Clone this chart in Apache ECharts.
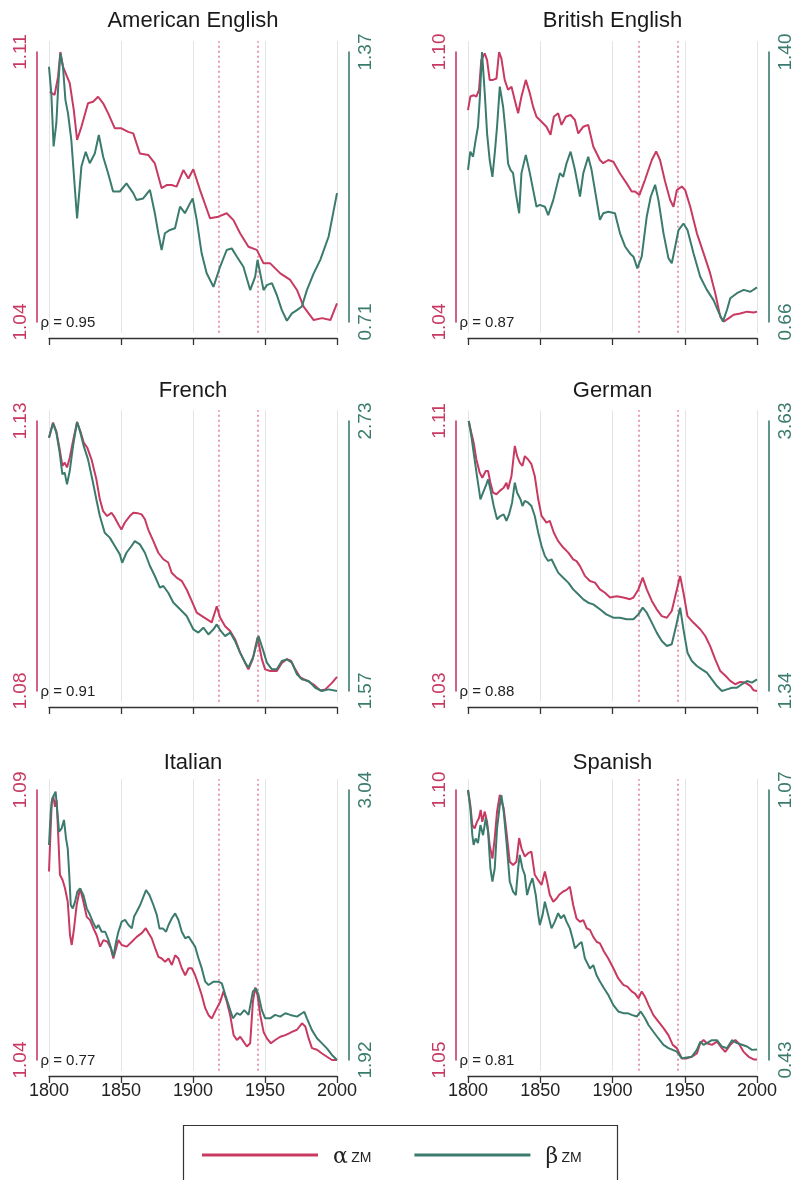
<!DOCTYPE html>
<html>
<head>
<meta charset="utf-8">
<script src="https://cdn.jsdelivr.net/npm/echarts@6.0.0/dist/echarts.min.js"></script>
<style>
html,body{margin:0;padding:0;background:#fff;}
#c{width:797px;height:1180px;}
</style>
</head>
<body>
<div id="c"></div>
<script>
// ---------------- DATA ----------------
const panelNames = ['American English', 'British English', 'French', 'German', 'Italian', 'Spanish'];
const rhoValues = ['0.95', '0.87', '0.91', '0.88', '0.77', '0.81'];
const alphaTicks = [[1.04, 1.11], [1.04, 1.10], [1.08, 1.13], [1.03, 1.11], [1.04, 1.09], [1.05, 1.10]];
const betaTicks = [[0.71, 1.37], [0.66, 1.40], [1.57, 2.73], [1.34, 3.63], [1.92, 3.04], [0.43, 1.07]];
const yearTicks = [1800, 1850, 1900, 1950, 2000];
const warYears = [1918, 1945];
const seriesNames = ['α', 'β'];

const amEngAlpha = [[1800.5,1.0997],[1803.9,1.0989],[1806.3,1.1036],[1807.9,1.1100],[1809.7,1.1062],[1812.1,1.104],[1814.4,1.1019],[1817.2,1.095],[1819.5,1.0872],[1822.5,1.0906],[1827.1,1.0967],[1830.6,1.0971],[1834.1,1.0984],[1837.6,1.0967],[1841.1,1.0941],[1845.7,1.0902],[1850.3,1.0902],[1855,1.0893],[1858.5,1.0889],[1863.1,1.0837],[1868.9,1.0833],[1873.5,1.0811],[1878.2,1.0747],[1881.7,1.0755],[1885.2,1.0755],[1888.6,1.0751],[1893.3,1.0794],[1896.8,1.0772],[1900.2,1.0796],[1904.9,1.0742],[1911.8,1.0669],[1917.6,1.0673],[1923.4,1.0682],[1928.1,1.0664],[1932.7,1.063],[1938.5,1.0595],[1944.3,1.0587],[1949,1.0552],[1953.6,1.0552],[1960.6,1.0526],[1967.5,1.0509],[1972.2,1.0483],[1976.8,1.044],[1983.8,1.0405],[1989.6,1.041],[1995.4,1.0405],[2000,1.0448]];
const amEngBeta = [[1800,1.334],[1801.6,1.269],[1803.2,1.139],[1805.1,1.196],[1806.5,1.293],[1807.9,1.367],[1809.7,1.334],[1811.4,1.253],[1813.2,1.22],[1815.5,1.155],[1819.5,0.963],[1822.5,1.09],[1825.5,1.126],[1828.3,1.098],[1831.8,1.122],[1834.6,1.167],[1837.6,1.114],[1841.1,1.073],[1844.5,1.029],[1849.2,1.029],[1853.8,1.049],[1858.5,1.025],[1860.8,1.008],[1865.4,1.012],[1870.1,1.033],[1873.5,0.976],[1875.9,0.927],[1878.2,0.886],[1880.5,0.927],[1884,0.935],[1887.5,0.939],[1891,0.992],[1894.4,0.976],[1897.9,1.0],[1899.8,1.012],[1902.6,0.959],[1906,0.878],[1909.5,0.829],[1914.2,0.796],[1918.8,0.845],[1923.4,0.886],[1926.9,0.89],[1930.4,0.87],[1935,0.845],[1939.7,0.788],[1943.2,0.821],[1944.8,0.862],[1949,0.788],[1951.3,0.8],[1954.8,0.805],[1958.2,0.776],[1961.7,0.739],[1965.2,0.713],[1968.7,0.731],[1972.2,0.739],[1975.6,0.748],[1979.1,0.788],[1983.8,0.829],[1988.4,0.862],[1994.2,0.919],[2000,1.025]];

const brEngAlpha = [[1800,1.0871],[1801.6,1.0901],[1803.9,1.0904],[1805.8,1.0901],[1807.6,1.0916],[1809.2,1.0982],[1811.6,1.0997],[1813.2,1.0982],[1815,1.0938],[1817.3,1.0938],[1819.7,1.0941],[1821.5,1.1],[1823.1,1.0986],[1825.4,1.0938],[1827.7,1.0916],[1830.1,1.0923],[1832.4,1.0893],[1834.7,1.0864],[1837,1.0901],[1840,1.0938],[1842.8,1.0908],[1845.1,1.0878],[1847.4,1.0856],[1849.7,1.0849],[1854.3,1.0834],[1857.1,1.0816],[1859.4,1.0856],[1862.4,1.0864],[1864.7,1.0838],[1867.7,1.0856],[1871,1.086],[1874,1.0849],[1876.3,1.0819],[1879.8,1.0834],[1883.2,1.0838],[1886.7,1.079],[1891.3,1.076],[1893.6,1.0753],[1897.1,1.076],[1900.6,1.0756],[1905.2,1.073],[1909.8,1.0708],[1913.3,1.069],[1915.6,1.069],[1918.6,1.0682],[1922.5,1.0716],[1927.2,1.076],[1930.2,1.0779],[1932.9,1.076],[1936.4,1.0712],[1939.9,1.0671],[1942.2,1.0656],[1944.5,1.0693],[1948,1.0701],[1950.3,1.0693],[1953.8,1.0656],[1958.4,1.0597],[1963,1.0553],[1967.6,1.0508],[1971.1,1.0464],[1974.6,1.0412],[1976.9,1.0401],[1980.3,1.0408],[1983.8,1.0416],[1988.4,1.0419],[1993.1,1.0423],[1997.7,1.0421],[2000,1.0423]];
const brEngBeta = [[1800,1.077],[1801.6,1.127],[1803.5,1.113],[1805.3,1.159],[1806.9,1.195],[1808.1,1.268],[1809.7,1.4],[1811.6,1.287],[1813.2,1.177],[1815,1.104],[1816.9,1.058],[1818.5,1.122],[1820.1,1.195],[1822,1.305],[1824.3,1.25],[1826.1,1.177],[1827.7,1.095],[1829.4,1.077],[1831.2,1.068],[1833.1,1.013],[1835.4,0.958],[1837,1.068],[1840,1.118],[1842.8,1.068],[1845.1,1.022],[1847.4,0.976],[1849.7,0.981],[1853.2,0.976],[1855.5,0.953],[1859,0.994],[1863.6,1.068],[1865.9,1.058],[1868.2,1.095],[1871,1.127],[1874,1.077],[1877.5,1.004],[1879.8,1.068],[1883.2,1.113],[1885.5,1.077],[1889,0.994],[1891.3,0.94],[1893.6,0.958],[1897.1,0.962],[1901.7,0.958],[1905.2,0.903],[1908.7,0.867],[1912.1,0.848],[1914.5,0.839],[1917.2,0.807],[1920.2,0.839],[1923.7,0.949],[1926.5,1.004],[1929.5,1.036],[1931.8,0.994],[1935.3,0.903],[1938.7,0.835],[1941,0.821],[1943.4,0.867],[1945.7,0.912],[1949.1,0.93],[1951.9,0.912],[1956.1,0.848],[1960.7,0.784],[1965.3,0.748],[1969.9,0.72],[1973.4,0.688],[1976.4,0.661],[1979.2,0.693],[1981.5,0.725],[1986.1,0.739],[1990.8,0.748],[1995.4,0.743],[2000,0.755]];

const frAlpha = [[1800,1.1269],[1802.8,1.1297],[1805.1,1.1281],[1807.4,1.1248],[1809.3,1.1217],[1810.9,1.1223],[1812.5,1.1214],[1814.4,1.1232],[1816.7,1.1263],[1819.5,1.1298],[1821.8,1.1281],[1824.1,1.126],[1826.5,1.1251],[1829.5,1.1229],[1832.9,1.1192],[1835.3,1.1155],[1837.6,1.1133],[1840.4,1.1124],[1843.4,1.113],[1845.7,1.1121],[1848.7,1.1106],[1850.3,1.1099],[1852.7,1.1112],[1856.1,1.1124],[1858.5,1.113],[1861.9,1.1129],[1864.3,1.1127],[1866.6,1.1118],[1868.9,1.1099],[1872.4,1.1078],[1875.9,1.1056],[1879.4,1.1044],[1882.8,1.1038],[1885.2,1.1019],[1888.6,1.101],[1892.1,1.1004],[1895.6,1.0988],[1899.1,1.0967],[1902.6,1.0945],[1906,1.0939],[1909.5,1.0933],[1913,1.0927],[1916.5,1.0957],[1918.8,1.0936],[1922.3,1.092],[1925.8,1.0911],[1929.2,1.0896],[1932.7,1.0871],[1936.2,1.0852],[1938.5,1.084],[1941.5,1.0859],[1944.8,1.0899],[1947.8,1.0859],[1950.1,1.084],[1953.6,1.0837],[1958.2,1.0837],[1961.7,1.0852],[1965.2,1.0859],[1968,1.0856],[1971,1.084],[1974.5,1.0825],[1979.1,1.0819],[1983.8,1.0812],[1988.4,1.0801],[1991.9,1.0803],[1996.5,1.0815],[2000,1.0826]];
const frBeta = [[1800,2.658],[1802.8,2.72],[1805.1,2.68],[1807.4,2.594],[1809.3,2.501],[1810.9,2.508],[1812.5,2.458],[1814.4,2.515],[1816.7,2.623],[1819.5,2.726],[1821.8,2.68],[1824.1,2.623],[1827.1,2.565],[1830.1,2.479],[1832.9,2.393],[1835.3,2.322],[1838.7,2.25],[1842.2,2.229],[1845.7,2.193],[1849.2,2.157],[1850.8,2.121],[1853.8,2.164],[1857.3,2.193],[1859.6,2.214],[1863.1,2.2],[1866.6,2.164],[1870.1,2.107],[1873.5,2.064],[1877,2.014],[1879.4,2.021],[1882.8,1.992],[1886.3,1.95],[1891,1.921],[1895.6,1.892],[1900.2,1.835],[1903.7,1.821],[1907.2,1.842],[1910.7,1.813],[1914.2,1.835],[1916.5,1.856],[1919.3,1.828],[1922.3,1.806],[1925.8,1.821],[1929.2,1.785],[1932.7,1.735],[1936.2,1.692],[1938.5,1.67],[1942,1.72],[1945.5,1.806],[1948.5,1.749],[1951.3,1.692],[1954.8,1.663],[1958.2,1.663],[1961.7,1.699],[1965.2,1.706],[1968.7,1.692],[1972.2,1.642],[1975.6,1.62],[1980.3,1.613],[1984.9,1.584],[1989.6,1.57],[1994.2,1.577],[2000,1.57]];

const deAlpha = [[1800.5,1.11],[1802.3,1.1065],[1803.9,1.1036],[1805.8,1.0986],[1808.1,1.0947],[1809.9,1.0932],[1812.3,1.0952],[1813.9,1.0952],[1815.5,1.0917],[1817.3,1.0888],[1819.7,1.0883],[1822,1.0893],[1824.7,1.0902],[1826.6,1.0917],[1827.7,1.0898],[1830.1,1.0937],[1832.4,1.1026],[1834,1.0996],[1835.8,1.0977],[1837.7,1.0967],[1839.3,1.0996],[1841.6,1.0986],[1843.9,1.0972],[1846.2,1.0937],[1848.6,1.0868],[1850.9,1.0819],[1854.3,1.0799],[1856.6,1.0804],[1859.4,1.0769],[1862.4,1.0744],[1865.9,1.0725],[1869.4,1.071],[1872.8,1.069],[1875.1,1.0685],[1877.5,1.067],[1880.9,1.0641],[1884.4,1.0626],[1887.9,1.0621],[1891.3,1.0601],[1894.8,1.0591],[1898.3,1.0577],[1902.9,1.0581],[1907.5,1.0577],[1912.1,1.0572],[1914.5,1.0577],[1917.9,1.0601],[1920.9,1.0636],[1923.7,1.0601],[1927.2,1.0567],[1930.6,1.0542],[1934.1,1.0522],[1937.6,1.0517],[1941,1.0537],[1944,1.0591],[1946.8,1.0641],[1949.1,1.0591],[1951.9,1.0522],[1956.1,1.0502],[1960.7,1.0483],[1964.2,1.0463],[1967.6,1.0433],[1971.1,1.0394],[1974.6,1.0359],[1978,1.0346],[1981.5,1.033],[1985,1.032],[1988.4,1.0327],[1991.9,1.0325],[1995.4,1.0315],[1997.7,1.0302],[2000,1.03]];
const deBeta = [[1800.5,3.63],[1802.3,3.503],[1803.9,3.361],[1806.2,3.164],[1808.6,2.966],[1810.4,3.022],[1812.3,3.079],[1813.9,3.135],[1815.5,3.051],[1817.8,2.909],[1820.1,2.796],[1822.4,2.824],[1824.7,2.838],[1826.6,2.782],[1828.4,2.838],[1830.5,2.937],[1832.4,3.107],[1834,3.022],[1836.3,2.966],[1837.7,2.909],[1839.3,2.952],[1841.6,2.937],[1843.9,2.909],[1846.2,2.824],[1848.6,2.683],[1850.9,2.57],[1853.2,2.485],[1855.5,2.443],[1857.8,2.457],[1860.1,2.4],[1862.4,2.344],[1865.9,2.301],[1869.4,2.259],[1872.8,2.202],[1876.3,2.16],[1879.8,2.117],[1883.2,2.089],[1886.7,2.075],[1891.3,2.033],[1895.7,1.99],[1900.6,1.962],[1905.2,1.962],[1909.8,1.948],[1914.5,1.948],[1917.9,1.99],[1920.9,2.047],[1923.7,2.004],[1927.2,1.92],[1930.6,1.835],[1934.1,1.764],[1937.6,1.722],[1941,1.736],[1944,1.891],[1946.8,2.047],[1949.1,1.863],[1951.9,1.665],[1954.9,1.594],[1958.4,1.552],[1961.8,1.524],[1965.3,1.496],[1968.8,1.439],[1972.3,1.382],[1975.7,1.34],[1979.2,1.354],[1982.7,1.368],[1986.1,1.368],[1989.6,1.397],[1993.1,1.425],[1996.5,1.411],[2000,1.439]];

const itAlpha = [[1800,1.0749],[1800.7,1.0798],[1801.9,1.0878],[1803,1.0888],[1804.2,1.0869],[1805.3,1.0881],[1806.5,1.0811],[1807.6,1.0743],[1809.5,1.0733],[1811.1,1.0718],[1813,1.0693],[1814.6,1.0631],[1815.8,1.0613],[1817.4,1.0644],[1819.2,1.0687],[1821.6,1.0718],[1823.9,1.0693],[1826.2,1.0665],[1828.5,1.0659],[1830.8,1.0644],[1833.1,1.0631],[1835.5,1.061],[1837.8,1.0622],[1840.6,1.0619],[1842.9,1.0607],[1844.7,1.0588],[1846.6,1.0607],[1848.2,1.0622],[1850.5,1.0613],[1854,1.061],[1857.5,1.0619],[1860.9,1.0628],[1864.4,1.0635],[1867.2,1.0644],[1869.1,1.0635],[1871.4,1.0625],[1873.7,1.0607],[1876,1.0591],[1878.3,1.0588],[1880.6,1.0582],[1883,1.0588],[1885.3,1.0576],[1887.6,1.0594],[1889.9,1.0588],[1892.2,1.057],[1894.6,1.0557],[1896.9,1.057],[1899.2,1.057],[1901.5,1.0557],[1903.8,1.0539],[1906.1,1.052],[1908.5,1.0496],[1910.8,1.0483],[1913.1,1.0477],[1915.4,1.049],[1918.9,1.0508],[1921.2,1.0527],[1923.5,1.0508],[1925.8,1.0483],[1928.2,1.0446],[1930.5,1.0437],[1932.8,1.0443],[1935.1,1.0434],[1937.4,1.0425],[1939.7,1.0431],[1941.6,1.0508],[1943.2,1.0534],[1944.8,1.052],[1946.7,1.0483],[1949,1.0452],[1951.3,1.044],[1954.1,1.0431],[1957.1,1.0437],[1960.6,1.0443],[1964.1,1.0446],[1966.4,1.0449],[1968.7,1.0452],[1972.2,1.0456],[1975.7,1.0468],[1978,1.0462],[1980.3,1.044],[1982.6,1.0422],[1986.1,1.0419],[1989.6,1.0412],[1993,1.0406],[1996.5,1.04],[2000,1.04]];
const itBeta = [[1800,2.812],[1801.2,2.95],[1802.3,3.005],[1803.5,3.012],[1804.6,3.033],[1805.8,2.95],[1807,2.867],[1808.8,2.881],[1810.4,2.916],[1811.8,2.84],[1813,2.798],[1814.1,2.687],[1815.1,2.563],[1816.5,2.549],[1818.1,2.577],[1819.7,2.618],[1821.6,2.632],[1823.9,2.604],[1826.2,2.549],[1828,2.528],[1830.4,2.494],[1832.7,2.466],[1834.3,2.48],[1836.6,2.452],[1839,2.452],[1841.3,2.418],[1843.1,2.383],[1844.7,2.349],[1846.6,2.411],[1848.2,2.452],[1850.5,2.494],[1852.8,2.501],[1855.2,2.48],[1857.5,2.466],[1859.1,2.515],[1860.9,2.535],[1863.3,2.563],[1865.6,2.598],[1867.4,2.625],[1869.8,2.604],[1872.5,2.563],[1874.9,2.521],[1876.7,2.466],[1879,2.466],[1881.3,2.452],[1883,2.48],[1885.3,2.508],[1887.6,2.528],[1889.9,2.501],[1892.2,2.452],[1894.6,2.425],[1896.9,2.432],[1899.2,2.411],[1901.5,2.39],[1903.8,2.342],[1906.1,2.3],[1908.5,2.245],[1910.8,2.231],[1914.3,2.245],[1917.7,2.245],[1920,2.238],[1922.4,2.19],[1924.7,2.148],[1927.7,2.093],[1930.5,2.114],[1932.8,2.107],[1935.6,2.127],[1938.6,2.107],[1941.6,2.204],[1943.7,2.217],[1945.5,2.19],[1947.8,2.127],[1950.1,2.093],[1953.6,2.093],[1957.1,2.107],[1960.6,2.1],[1964.1,2.114],[1967.6,2.107],[1972.2,2.1],[1975.7,2.114],[1977.3,2.12],[1979.1,2.093],[1982.6,2.044],[1986.1,2.01],[1989.6,1.989],[1993,1.968],[1996.5,1.941],[2000,1.92]];

const esAlpha = [[1800,1.1],[1801.6,1.0972],[1803,1.0935],[1804.6,1.0929],[1806.2,1.0941],[1807.6,1.0948],[1808.8,1.0963],[1809.9,1.0941],[1811.6,1.096],[1813.2,1.0941],[1815,1.0898],[1816.9,1.0873],[1818.5,1.0911],[1820.1,1.096],[1822,1.0991],[1823.1,1.0994],[1824.7,1.0966],[1826.6,1.0923],[1828.9,1.0867],[1831.2,1.0861],[1833.5,1.0867],[1835.4,1.0911],[1837,1.0892],[1839.3,1.0877],[1841.6,1.0883],[1843.9,1.0886],[1846.2,1.0843],[1848.6,1.0833],[1850.9,1.0824],[1853.2,1.0849],[1854.8,1.083],[1856.6,1.0806],[1859,1.0793],[1861.3,1.0799],[1863.1,1.0806],[1865.9,1.0812],[1868.2,1.0815],[1870.5,1.0821],[1872.8,1.0787],[1875.1,1.0762],[1877.5,1.0756],[1879.8,1.0759],[1882.1,1.0744],[1884.4,1.0741],[1886.7,1.0728],[1889,1.0719],[1891.3,1.0716],[1894.1,1.0701],[1897.1,1.0688],[1900.6,1.067],[1904,1.0651],[1907.5,1.0639],[1910.3,1.0636],[1913.3,1.0627],[1915.6,1.0623],[1918,1.0614],[1920.2,1.0627],[1922.5,1.0617],[1924.9,1.0602],[1928.3,1.0583],[1931.8,1.0571],[1935.3,1.0559],[1938.7,1.0546],[1941.7,1.0528],[1944.5,1.0522],[1948,1.0503],[1951.4,1.0503],[1954.9,1.0506],[1958.4,1.0512],[1960.7,1.0531],[1963,1.0537],[1965.3,1.0531],[1968.8,1.0528],[1972.3,1.0534],[1975.7,1.0522],[1978,1.0515],[1981.5,1.0528],[1985,1.0537],[1987.3,1.0531],[1990.8,1.0515],[1994.2,1.0506],[1997.7,1.0501],[2000,1.0501]];
const esBeta = [[1800,1.07],[1801.6,1.027],[1803,0.963],[1803.9,0.94],[1805.3,0.955],[1806.9,0.944],[1808.6,0.987],[1810.4,0.963],[1812.3,1.003],[1813.9,0.971],[1815.5,0.884],[1816.9,0.853],[1818.5,0.884],[1820.1,0.979],[1822,1.034],[1823.1,1.058],[1824.7,1.019],[1826.6,0.948],[1828.9,0.853],[1831.2,0.829],[1833.1,0.821],[1834.7,0.884],[1835.8,0.916],[1837.7,0.884],[1839.3,0.869],[1840.9,0.821],[1842.8,0.845],[1844.6,0.861],[1846.9,0.821],[1848.6,0.774],[1849.7,0.75],[1851.6,0.774],[1853.2,0.805],[1855.5,0.774],[1857.8,0.742],[1860.1,0.758],[1862.4,0.778],[1864.3,0.766],[1866.4,0.774],[1868.2,0.758],[1870.5,0.742],[1872.4,0.718],[1874,0.695],[1876.3,0.703],[1878.6,0.71],[1880.9,0.671],[1884.4,0.647],[1886.7,0.655],[1889,0.631],[1891.3,0.616],[1894.1,0.6],[1897.1,0.584],[1900.6,0.56],[1904,0.545],[1907.5,0.541],[1910.3,0.541],[1913.3,0.537],[1916.8,0.533],[1919.5,0.545],[1922.5,0.529],[1924.9,0.513],[1928.3,0.497],[1931.8,0.481],[1935.3,0.466],[1938.7,0.458],[1941.7,0.454],[1944.5,0.45],[1948,0.434],[1951.4,0.436],[1954.9,0.438],[1958.4,0.454],[1960.7,0.473],[1963,0.466],[1965.3,0.47],[1968.8,0.477],[1972.3,0.477],[1975.7,0.462],[1979.2,0.458],[1982.7,0.477],[1986.1,0.47],[1989.6,0.466],[1993.1,0.462],[1996.5,0.454],[2000,0.455]];

const alphaData = [amEngAlpha, brEngAlpha, frAlpha, deAlpha, itAlpha, esAlpha];
const betaData = [amEngBeta, brEngBeta, frBeta, deBeta, itBeta, esBeta];

// ---------------- LAYOUT / STYLE ----------------
const RED = '#c83a62';
const GREEN = '#3b7b6d';
const FONT = "'Liberation Sans', Arial, sans-serif";
const colLeft = [49, 468];
const colW = [288, 289];
const rowTop = [52, 421, 790];
const H = 270;
const titleDy = [-31, -30, -27];

const chart = echarts.init(document.getElementById('c'), null, {renderer: 'canvas', width: 797, height: 1180});

const grid = [], xAxis = [], yAxis = [], series = [], graphic = [];

function pad(lo, hi) { const r = hi - lo; return [lo - r * 0.04, hi + r * 0.04]; }
function endFmt(lo, hi) {
  return function (v) { return (Math.abs(v - lo) < 1e-9 || Math.abs(v - hi) < 1e-9) ? v.toFixed(2) : ''; };
}

panelNames.forEach(function (name, i) {
  const c = i % 2, r = Math.floor(i / 2);
  const L = colLeft[c], W = colW[c], T = rowTop[r];
  const px = W * 0.04, py = H * 0.04;
  const x0 = yearTicks[0], x1 = yearTicks[yearTicks.length - 1];
  const aT = alphaTicks[i], bT = betaTicks[i];

  // plot-region grid (R-style 4% expansion)
  grid.push({left: L - px, top: T - py, width: W + 2 * px, height: H + 2 * py});
  const gA = grid.length - 1;
  // exact data-range grid (for the axes)
  grid.push({left: L, top: T, width: W, height: H});
  const gB = grid.length - 1;

  const xr = pad(x0, x1);
  xAxis.push({type: 'value', gridIndex: gA, min: xr[0], max: xr[1], show: false});
  const xA = xAxis.length - 1;
  xAxis.push({
    type: 'value', gridIndex: gB, min: x0, max: x1, interval: 50, position: 'bottom', offset: 16,
    axisLine: {show: true, lineStyle: {color: '#333', width: 1.3}},
    axisTick: {show: true, inside: false, length: 7, lineStyle: {color: '#333', width: 1.3}},
    axisLabel: {show: r === 2, fontSize: 18, color: '#222', margin: 6, fontFamily: FONT,
      formatter: function (v) { return String(v); }},
    splitLine: {show: false}
  });

  const ar = pad(aT[0], aT[1]), br = pad(bT[0], bT[1]);
  yAxis.push({type: 'value', gridIndex: gA, min: ar[0], max: ar[1], show: false, position: 'left'});
  const yAa = yAxis.length - 1;
  yAxis.push({type: 'value', gridIndex: gA, min: br[0], max: br[1], show: false, position: 'right'});
  const yAb = yAxis.length - 1;

  yAxis.push({
    type: 'value', gridIndex: gB, min: aT[0], max: aT[1], position: 'left', offset: 12,
    axisLine: {show: true, lineStyle: {color: RED, width: 1.6}},
    axisTick: {show: false},
    splitLine: {show: false},
    axisLabel: {show: true, customValues: aT, formatter: endFmt(aT[0], aT[1]), rotate: 90, fontSize: 19,
      color: RED, margin: 7, fontFamily: FONT, showMinLabel: true, showMaxLabel: true}
  });
  yAxis.push({
    type: 'value', gridIndex: gB, min: bT[0], max: bT[1], position: 'right', offset: 12,
    axisLine: {show: true, lineStyle: {color: GREEN, width: 1.6}},
    axisTick: {show: false},
    splitLine: {show: false},
    axisLabel: {show: true, customValues: bT, formatter: endFmt(bT[0], bT[1]), rotate: 90, fontSize: 19,
      color: GREEN, margin: 7, fontFamily: FONT, showMinLabel: true, showMaxLabel: true}
  });

  // reference lines (grid verticals + war years), kept beneath the data lines
  series.push({
    type: 'line', xAxisIndex: xA, yAxisIndex: yAa, data: [], z: 1, silent: true,
    markLine: {
      silent: true, z: 1, symbol: ['none', 'none'], label: {show: false}, animation: false,
      data: yearTicks.map(function (y) { return {xAxis: y, lineStyle: {color: '#e4e4e4', type: 'solid', width: 1}}; })
        .concat(warYears.map(function (y) { return {xAxis: y, lineStyle: {color: '#e07a96', type: [2, 3], width: 1.5}}; }))
    }
  });

  series.push({
    name: seriesNames[0], type: 'line', xAxisIndex: xA, yAxisIndex: yAa, data: alphaData[i],
    showSymbol: false, symbol: 'none', z: 6, animation: false,
    lineStyle: {color: RED, width: 2}, itemStyle: {color: RED}
  });
  series.push({
    name: seriesNames[1], type: 'line', xAxisIndex: xA, yAxisIndex: yAb, data: betaData[i],
    showSymbol: false, symbol: 'none', z: 7, animation: false,
    lineStyle: {color: GREEN, width: 2}, itemStyle: {color: GREEN}
  });

  graphic.push({
    type: 'text', x: L + W / 2, y: T + titleDy[r], silent: true,
    style: {text: name, fill: '#1a1a1a', fontSize: 22, fontFamily: FONT, align: 'center', verticalAlign: 'middle'}
  });
  graphic.push({
    type: 'text', x: L - px + 3, y: T + H + 1, silent: true,
    style: {text: 'ρ = ' + rhoValues[i], fill: '#222', fontSize: 15, fontFamily: FONT, align: 'left', verticalAlign: 'middle'}
  });
});

// legend box
graphic.push({
  type: 'rect', shape: {x: 183.5, y: 1125.5, width: 434, height: 70}, silent: true,
  style: {fill: 'none', stroke: '#333', lineWidth: 1.2}
});

const option = {
  backgroundColor: '#fff',
  animation: false,
  grid: grid, xAxis: xAxis, yAxis: yAxis, series: series, graphic: graphic,
  legend: {
    data: seriesNames, left: 197, top: 1141, icon: 'rect', itemWidth: 116, itemHeight: 3, itemGap: 43,
    selectedMode: false,
    formatter: function (n) { return '{g|' + n + '} {s|ZM}'; },
    textStyle: {
      padding: [0, 0, 0, 10],
      rich: {
        g: {fontSize: 22, color: '#222', fontFamily: "'DejaVu Serif', serif", padding: [4, 0, 0, 0]},
        s: {fontSize: 14, color: '#222', fontFamily: FONT, padding: [6, 0, 0, 0]}
      }
    }
  }
};
chart.setOption(option);
</script>
</body>
</html>
